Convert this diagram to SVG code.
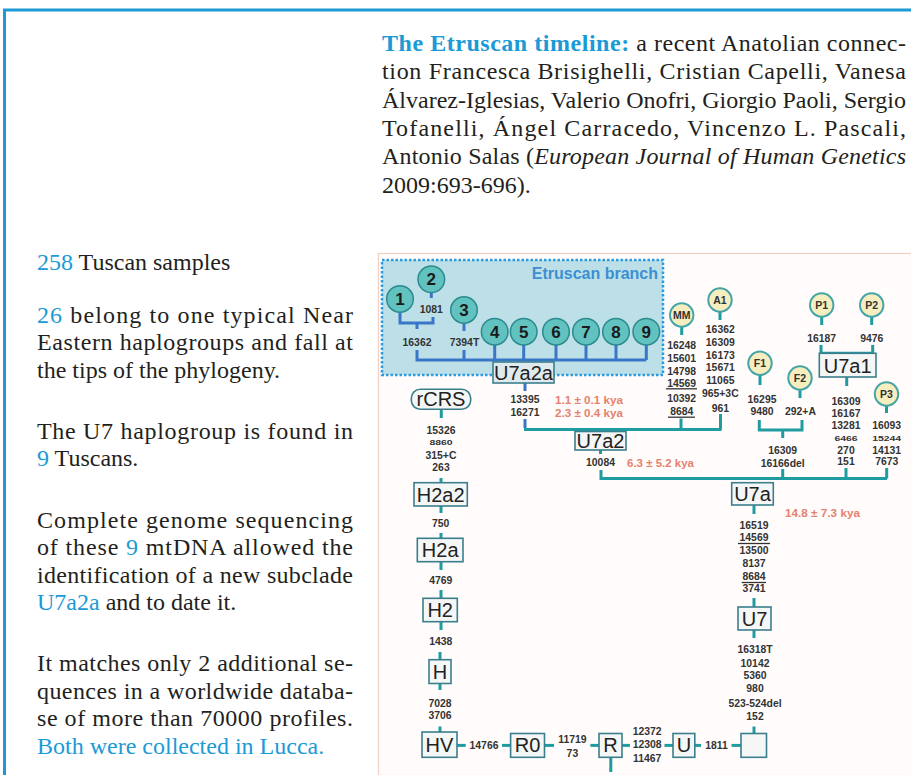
<svg xmlns="http://www.w3.org/2000/svg" width="911" height="775" viewBox="0 0 911 775">
<style>
.body{font-family:"Liberation Serif","Times New Roman",serif;font-size:24px;fill:#231f20}
.hl{fill:#1b9ad6}
.hb{fill:#1b9ad6;font-weight:bold}
.it{font-style:italic}
.num{font-family:"Liberation Sans",Arial,sans-serif;font-size:10.4px;font-weight:bold;fill:#333;text-anchor:middle}
.kya{font-family:"Liberation Sans",Arial,sans-serif;font-size:11px;font-weight:bold;fill:#e5826f}
.box{fill:#f5f6f6;stroke:#3b7f8c;stroke-width:1.6}
.lbl{font-family:"Liberation Sans",Arial,sans-serif;font-size:20px;fill:#222;text-anchor:middle}
.tl{stroke:#1e9ca2;stroke-width:3;fill:none}
.bl{stroke:#3a76c8;stroke-width:3;fill:none}
.ul{stroke:#333;stroke-width:1.3}
.ec{fill:#62c2c0;stroke:#2b8b8d;stroke-width:1.5}
.en{font-family:"Liberation Sans",Arial,sans-serif;font-size:17px;font-weight:bold;fill:#1a1a1a;text-anchor:middle}
.yc{fill:#f6eebf;stroke:#45a5a6;stroke-width:2}
.yn{font-family:"Liberation Sans",Arial,sans-serif;font-size:10.5px;font-weight:bold;fill:#333;text-anchor:middle}
</style>
<rect x="0" y="0" width="911" height="775" fill="#ffffff"/>
<!-- page frame -->
<line x1="3" y1="10" x2="911" y2="10" stroke="#1b9ad6" stroke-width="3"/>
<line x1="4.5" y1="9" x2="4.5" y2="775" stroke="#1b9ad6" stroke-width="3"/>

<!-- header -->
<g id="header" class="body">
<text x="382" y="51" textLength="524" lengthAdjust="spacing"><tspan class="hb">The Etruscan timeline:</tspan> a recent Anatolian connec-</text>
<text x="382" y="79" textLength="524" lengthAdjust="spacing">tion Francesca Brisighelli, Cristian Capelli, Vanesa</text>
<text x="382" y="108" textLength="524" lengthAdjust="spacing">Álvarez-Iglesias, Valerio Onofri, Giorgio Paoli, Sergio</text>
<text x="382" y="136" textLength="524" lengthAdjust="spacing">Tofanelli, Ángel Carracedo, Vincenzo L. Pascali,</text>
<text x="382" y="164" textLength="524" lengthAdjust="spacing">Antonio Salas (<tspan class="it">European Journal of Human Genetics</tspan></text>
<text x="382" y="193">2009:693-696).</text>
</g>

<!-- left column -->
<g id="notes" class="body">
<text x="37" y="270"><tspan class="hl">258</tspan> Tuscan samples</text>
<text x="37" y="323" textLength="316" lengthAdjust="spacing"><tspan class="hl">26</tspan> belong to one typical Near</text>
<text x="37" y="350" textLength="316" lengthAdjust="spacing">Eastern haplogroups and fall at</text>
<text x="37" y="378">the tips of the phylogeny.</text>
<text x="37" y="439" textLength="316" lengthAdjust="spacing">The U7 haplogroup is found in</text>
<text x="37" y="466"><tspan class="hl">9</tspan> Tuscans.</text>
<text x="37" y="528" textLength="316" lengthAdjust="spacing">Complete genome sequencing</text>
<text x="37" y="555" textLength="316" lengthAdjust="spacing">of these <tspan class="hl">9</tspan> mtDNA allowed the</text>
<text x="37" y="583" textLength="316" lengthAdjust="spacing">identification of a new subclade</text>
<text x="37" y="610"><tspan class="hl">U7a2a</tspan> and to date it.</text>
<text x="37" y="671" textLength="316" lengthAdjust="spacing">It matches only 2 additional se-</text>
<text x="37" y="699" textLength="316" lengthAdjust="spacing">quences in a worldwide databa-</text>
<text x="37" y="726" textLength="316" lengthAdjust="spacing">se of more than 70000 profiles.</text>
<text x="37" y="754" class="hl">Both were collected in Lucca.</text>
</g>

<!-- figure -->
<rect x="378.5" y="253.5" width="533" height="522" fill="#fffcfb" stroke="#f2cfc5" stroke-width="1.2"/>

<g id="etruscan-branch">
<rect x="382" y="260" width="281" height="115" fill="#bde0e8" stroke="#2a9be0" stroke-width="2.5" stroke-dasharray="2.5 2"/>
<text x="658" y="279" text-anchor="end" font-family="Liberation Sans, Arial, sans-serif" font-size="16" font-weight="bold" fill="#3c8fd3">Etruscan branch</text>
</g>

<g id="connectors">
<!-- etruscan (blue) -->
<path class="bl" d="M400 312.5 V323 H433 V317"/>
<path class="bl" d="M431.3 292.5 V298"/>
<path class="bl" d="M417 323 V329"/>
<path class="bl" d="M464 323.5 V331"/>
<path class="bl" d="M417 350 V360 H646.3"/>
<path class="bl" d="M464 350 V360"/>
<path class="bl" d="M494.7 345 V360"/>
<path class="bl" d="M523.7 345 V360"/>
<path class="bl" d="M556 345 V360"/>
<path class="bl" d="M586 345 V360"/>
<path class="bl" d="M616 345 V360"/>
<path class="bl" d="M646.3 345 V360"/>
<path class="bl" d="M525 383 V391"/>
<path class="bl" d="M525 419 V428"/>
<!-- U7a2 level -->
<path class="tl" d="M524 429.5 H721.5"/>
<path class="tl" d="M681 418.5 V429.5"/>
<path class="tl" d="M720.5 414 V429.5"/>
<path class="tl" d="M681.7 327 V335"/>
<path class="tl" d="M720 312 V320"/>
<path class="tl" d="M600.5 450 V454"/>
<!-- U7a level -->
<path class="tl" d="M601 470 V478.5 H887"/>
<path class="tl" d="M782.7 469 V478.5"/>
<path class="tl" d="M846 468 V478.5"/>
<path class="tl" d="M886.7 468 V478.5"/>
<path class="tl" d="M760 375 V385"/>
<path class="tl" d="M800 390 V398"/>
<path class="tl" d="M759.3 420 V430 H802 V420"/>
<path class="tl" d="M782.7 430 V438"/>
<path class="tl" d="M821.7 317 V325"/>
<path class="tl" d="M871.7 317 V325"/>
<path class="tl" d="M821 345 V353.3 H872.7 V345"/>
<path class="tl" d="M846.7 377 V386"/>
<path class="tl" d="M886.5 406 V413"/>
<path class="tl" d="M754 505 V514"/>
<path class="tl" d="M754 598 V607"/>
<path class="tl" d="M754 630 V638"/>
<path class="tl" d="M754 726.5 V733.5"/>
<!-- left chain -->
<path class="tl" d="M441.3 409.3 V418"/>
<path class="tl" d="M441 478 V483"/>
<path class="tl" d="M441 506 V513"/>
<path class="tl" d="M441 533 V538.3"/>
<path class="tl" d="M441 561.7 V570"/>
<path class="tl" d="M441 590 V598.3"/>
<path class="tl" d="M441 621.7 V630"/>
<path class="tl" d="M440 652 V660"/>
<path class="tl" d="M440 683.5 V690"/>
<path class="tl" d="M440 726.5 V732"/>
<!-- bottom chain -->
<path class="tl" d="M457 745.4 H465.7"/>
<path class="tl" d="M502 745.4 H510.6"/>
<path class="tl" d="M544.5 745.4 H554"/>
<path class="tl" d="M590.4 745.4 H599"/>
<path class="tl" d="M622 745.4 H630"/>
<path class="tl" d="M664.5 745.4 H673"/>
<path class="tl" d="M694.8 745.4 H701"/>
<path class="tl" d="M731.5 745.4 H741"/>
<path class="tl" d="M610.8 757.3 V772"/>
</g>

<!-- Etruscan samples -->
<g id="node-1"><circle class="ec" cx="400" cy="299" r="13.3"/><text class="en" x="400" y="305">1</text></g>
<g id="node-2"><circle class="ec" cx="431.3" cy="279.3" r="13.3"/><text class="en" x="431.3" y="285.3">2</text></g>
<g id="node-3"><circle class="ec" cx="464" cy="310" r="13.3"/><text class="en" x="464" y="316">3</text></g>
<g id="node-4"><circle class="ec" cx="494.7" cy="331.7" r="13.3"/><text class="en" x="494.7" y="337.7">4</text></g>
<g id="node-5"><circle class="ec" cx="523.7" cy="331.7" r="13.3"/><text class="en" x="523.7" y="337.7">5</text></g>
<g id="node-6"><circle class="ec" cx="556" cy="331.7" r="13.3"/><text class="en" x="556" y="337.7">6</text></g>
<g id="node-7"><circle class="ec" cx="586" cy="331.7" r="13.3"/><text class="en" x="586" y="337.7">7</text></g>
<g id="node-8"><circle class="ec" cx="616" cy="331.7" r="13.3"/><text class="en" x="616" y="337.7">8</text></g>
<g id="node-9"><circle class="ec" cx="646.3" cy="331.7" r="13.3"/><text class="en" x="646.3" y="337.7">9</text></g>

<!-- other samples -->
<g id="node-MM"><circle class="yc" cx="681.7" cy="315" r="11.7"/><text class="yn" x="681.7" y="318.8">MM</text></g>
<g id="node-A1"><circle class="yc" cx="720" cy="300" r="11.7"/><text class="yn" x="720" y="303.8">A1</text></g>
<g id="node-P1"><circle class="yc" cx="821.7" cy="305" r="11.7"/><text class="yn" x="821.7" y="308.8">P1</text></g>
<g id="node-P2"><circle class="yc" cx="871.7" cy="305" r="11.7"/><text class="yn" x="871.7" y="308.8">P2</text></g>
<g id="node-F1"><circle class="yc" cx="760" cy="363.3" r="11.7"/><text class="yn" x="760" y="367.1">F1</text></g>
<g id="node-F2"><circle class="yc" cx="800" cy="378" r="11.7"/><text class="yn" x="800" y="381.8">F2</text></g>
<g id="node-P3"><circle class="yc" cx="886.5" cy="394" r="11.7"/><text class="yn" x="886.5" y="397.8">P3</text></g>

<!-- haplogroup boxes -->
<g id="node-U7a2a"><rect class="box" x="493" y="362" width="61" height="21" style="fill:#dfeaee"/><text class="lbl" x="523.5" y="379.5">U7a2a</text></g>
<g id="node-U7a2"><rect class="box" x="575" y="431.5" width="51" height="18.5"/><text class="lbl" x="600.5" y="447.5">U7a2</text></g>
<g id="node-U7a1"><rect class="box" x="819.3" y="353.3" width="56.7" height="23.7"/><text class="lbl" x="847.6" y="372.5">U7a1</text></g>
<g id="node-U7a"><rect class="box" x="731.7" y="482.7" width="41.6" height="22.3"/><text class="lbl" x="752.5" y="501">U7a</text></g>
<g id="node-U7"><rect class="box" x="738" y="607" width="33" height="23"/><text class="lbl" x="754.5" y="625.5">U7</text></g>
<g id="node-rCRS"><rect class="box" x="411.3" y="389.3" width="59.4" height="20" rx="9"/><text class="lbl" x="441" y="406.3">rCRS</text></g>
<g id="node-H2a2"><rect class="box" x="414" y="482.7" width="53.3" height="23.3"/><text class="lbl" x="440.7" y="501.5">H2a2</text></g>
<g id="node-H2a"><rect class="box" x="417.3" y="538.3" width="45.7" height="23.4"/><text class="lbl" x="440.2" y="557.2">H2a</text></g>
<g id="node-H2"><rect class="box" x="423" y="598.3" width="34.3" height="23.4"/><text class="lbl" x="440.2" y="617.2">H2</text></g>
<g id="node-H"><rect class="box" x="429" y="659.7" width="22" height="23.8"/><text class="lbl" x="440" y="678.6">H</text></g>
<g id="node-HV"><rect class="box" x="422" y="732" width="35" height="25.3"/><text class="lbl" x="439.5" y="752.2">HV</text></g>
<g id="node-R0"><rect class="box" x="510.6" y="733.5" width="33.9" height="23.8"/><text class="lbl" x="527.5" y="752.4">R0</text></g>
<g id="node-R"><rect class="box" x="599" y="733.5" width="23" height="23.8"/><text class="lbl" x="610.5" y="752.4">R</text></g>
<g id="node-U"><rect class="box" x="673" y="733.5" width="21.8" height="23.8"/><text class="lbl" x="683.9" y="752.4">U</text></g>
<g id="node-empty"><rect class="box" x="741" y="733.5" width="25.5" height="23.8"/></g>

<!-- mutation labels -->
<g id="mutations">
<text class="num" x="431.3" y="313">1081</text>
<text class="num" x="417" y="346">16362</text>
<text class="num" x="464.5" y="346">7394T</text>
<text class="num" x="525" y="402.5">13395</text>
<text class="num" x="525" y="416">16271</text>
<text class="num" x="681.7" y="349">16248</text>
<text class="num" x="681.7" y="361.7">15601</text>
<text class="num" x="681.7" y="375">14798</text>
<text class="num" x="681.7" y="386.5">14569</text>
<line class="ul" x1="666" y1="388.8" x2="697" y2="388.8"/>
<text class="num" x="681.7" y="401.7">10392</text>
<text class="num" x="681.7" y="415">8684</text>
<line class="ul" x1="668" y1="417.2" x2="695" y2="417.2"/>
<text class="num" x="720.3" y="333.3">16362</text>
<text class="num" x="720.3" y="346">16309</text>
<text class="num" x="720.3" y="358.5">16173</text>
<text class="num" x="720.3" y="371">15671</text>
<text class="num" x="720.3" y="383.5">11065</text>
<text class="num" x="720.3" y="396.7">965+3C</text>
<text class="num" x="720.3" y="411.5">961</text>
<text class="num" x="600.5" y="466">10084</text>
<text class="num" x="762" y="402.5">16295</text>
<text class="num" x="762" y="415">9480</text>
<text class="num" x="800.5" y="415">292+A</text>
<text class="num" x="782.7" y="454">16309</text>
<text class="num" x="782.7" y="466.5">16166del</text>
<text class="num" x="821.7" y="341.7">16187</text>
<text class="num" x="871.7" y="341.7">9476</text>
<text class="num" x="846" y="404.5">16309</text>
<text class="num" x="846" y="417">16167</text>
<text class="num" x="846" y="429">13281</text>
<text class="num" transform="translate(846 440.5) scale(1 0.75)" x="0" y="0">6466</text>
<text class="num" x="846" y="453.5">270</text>
<text class="num" x="846" y="465">151</text>
<text class="num" x="886.7" y="429">16093</text>
<text class="num" transform="translate(886.7 440.5) scale(1 0.75)" x="0" y="0">15244</text>
<text class="num" x="886.7" y="453.5">14131</text>
<text class="num" x="886.7" y="465">7673</text>
<text class="num" x="754" y="528.5">16519</text>
<text class="num" x="754" y="540.5">14569</text>
<line class="ul" x1="738" y1="543.5" x2="770" y2="543.5"/>
<text class="num" x="754" y="553.5">13500</text>
<text class="num" x="754" y="566.5">8137</text>
<text class="num" x="754" y="579.5">8684</text>
<line class="ul" x1="741.7" y1="582.5" x2="766" y2="582.5"/>
<text class="num" x="754" y="591.5">3741</text>
<text class="num" x="755" y="653">16318T</text>
<text class="num" x="755" y="666.5">10142</text>
<text class="num" x="755" y="678.5">5360</text>
<text class="num" x="755" y="692">980</text>
<text class="num" x="755" y="706.5">523-524del</text>
<text class="num" x="755" y="720">152</text>
<text class="num" x="441" y="433.5">15326</text>
<text class="num" transform="translate(441 445) scale(1 0.75)" x="0" y="0">8860</text>
<text class="num" x="441" y="458.5">315+C</text>
<text class="num" x="441" y="471">263</text>
<text class="num" x="440.7" y="527">750</text>
<text class="num" x="440.7" y="584">4769</text>
<text class="num" x="440.7" y="645">1438</text>
<text class="num" x="440" y="706.5">7028</text>
<text class="num" x="440" y="719">3706</text>
<text class="num" x="484" y="749">14766</text>
<text class="num" x="572.4" y="743">11719</text>
<text class="num" x="572.4" y="756.5">73</text>
<text class="num" x="647.2" y="734.5">12372</text>
<text class="num" x="647.2" y="748.2">12308</text>
<text class="num" x="647.2" y="761.8">11467</text>
<text class="num" x="716.5" y="749">1811</text>
</g>

<g id="dates">
<text class="kya" x="555" y="403.5" textLength="68" lengthAdjust="spacingAndGlyphs">1.1 ± 0.1 kya</text>
<text class="kya" x="555" y="416.5" textLength="68" lengthAdjust="spacingAndGlyphs">2.3 ± 0.4 kya</text>
<text class="kya" x="627" y="466.5" textLength="67" lengthAdjust="spacingAndGlyphs">6.3 ± 5.2 kya</text>
<text class="kya" x="785" y="516.5" textLength="75" lengthAdjust="spacingAndGlyphs">14.8 ± 7.3 kya</text>
</g>
</svg>
